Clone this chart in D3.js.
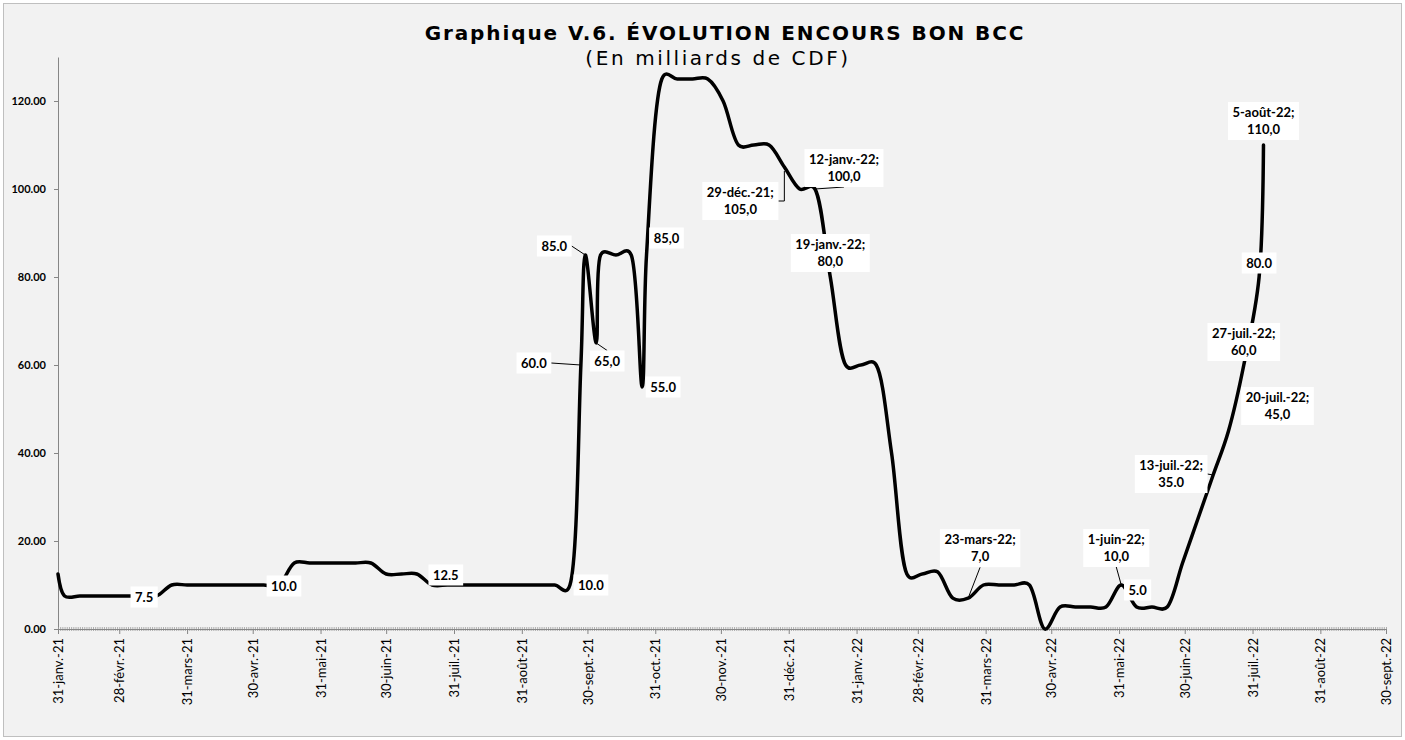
<!DOCTYPE html>
<html lang="fr">
<head>
<meta charset="utf-8">
<title>Graphique V.6. Évolution encours Bon BCC</title>
<script src="https://cdn.jsdelivr.net/npm/d3@7"></script>
<style>
  body { margin: 0; background: #ffffff; }
  svg { display: block; }
</style>
</head>
<body>
<script>
// ---- data -------------------------------------------------------------------
const dates = [
  "2021-01-31", "2021-02-03", "2021-02-10", "2021-02-17", "2021-02-24", "2021-03-03",
  "2021-03-10", "2021-03-17", "2021-03-24", "2021-03-31", "2021-04-07", "2021-04-14",
  "2021-04-21", "2021-04-28", "2021-05-05", "2021-05-12", "2021-05-19", "2021-05-26",
  "2021-06-02", "2021-06-09", "2021-06-16", "2021-06-23", "2021-06-30", "2021-07-07",
  "2021-07-14", "2021-07-21", "2021-07-28", "2021-08-04", "2021-08-11", "2021-08-18",
  "2021-08-25", "2021-09-01", "2021-09-08", "2021-09-15", "2021-09-22", "2021-09-27",
  "2021-09-29", "2021-10-04", "2021-10-06", "2021-10-13", "2021-10-20", "2021-10-25",
  "2021-10-27", "2021-11-03", "2021-11-10", "2021-11-17", "2021-11-24", "2021-12-01",
  "2021-12-08", "2021-12-15", "2021-12-22", "2021-12-29", "2022-01-05", "2022-01-12",
  "2022-01-19", "2022-01-26", "2022-02-02", "2022-02-09", "2022-02-16", "2022-02-23",
  "2022-03-02", "2022-03-09", "2022-03-16", "2022-03-23", "2022-03-30", "2022-04-06",
  "2022-04-13", "2022-04-20", "2022-04-27", "2022-05-04", "2022-05-11", "2022-05-18",
  "2022-05-25", "2022-06-01", "2022-06-08", "2022-06-15", "2022-06-22", "2022-06-29",
  "2022-07-06", "2022-07-13", "2022-07-20", "2022-07-27", "2022-08-03", "2022-08-05"
];
const values = [
  12.5, 7.5, 7.5, 7.5, 7.5, 7.5,
  7.5, 7.5, 10, 10, 10, 10,
  10, 10, 10, 10, 15, 15,
  15, 15, 15, 15, 12.5, 12.5,
  12.5, 10, 10, 10, 10, 10,
  10, 10, 10, 10, 10, 60,
  85, 65, 85, 85, 85, 55,
  85, 125, 125, 125, 125, 120,
  110, 110, 110, 105, 100, 100,
  80, 60, 60, 60, 40, 12.5,
  12.5, 13, 7, 7, 10, 10,
  10, 10, 0, 5, 5, 5,
  5, 10, 5, 5, 5, 15,
  25, 35, 45, 60, 80, 110
];

const monthTicks = [
  "2021-01-31", "2021-02-28", "2021-03-31", "2021-04-30", "2021-05-31", "2021-06-30",
  "2021-07-31", "2021-08-31", "2021-09-30", "2021-10-31", "2021-11-30", "2021-12-31",
  "2022-01-31", "2022-02-28", "2022-03-31", "2022-04-30", "2022-05-31", "2022-06-30",
  "2022-07-31", "2022-08-31", "2022-09-30"
];
const monthTickLabels = [
  "31-janv.-21", "28-févr.-21", "31-mars-21", "30-avr.-21", "31-mai-21", "30-juin-21",
  "31-juil.-21", "31-août-21", "30-sept.-21", "31-oct.-21", "30-nov.-21", "31-déc.-21",
  "31-janv.-22", "28-févr.-22", "31-mars-22", "30-avr.-22", "31-mai-22", "30-juin-22",
  "31-juil.-22", "31-août-22", "30-sept.-22"
];
const yTicks = [0, 20, 40, 60, 80, 100, 120];

// data labels: which point they belong to, and what they say
const labelDates = [
  "2021-03-10", "2021-05-12", "2021-07-14", "2021-09-22", "2021-09-29", "2021-09-27",
  "2021-10-04", "2021-10-25", "2021-10-27", "2021-12-29", "2022-01-12", "2022-01-19",
  "2022-03-23", "2022-06-01", "2022-06-08", "2022-07-13", "2022-07-20", "2022-07-27",
  "2022-08-03", "2022-08-05"
];
const labelTexts = [
  "7.5", "10.0", "12.5", "10.0", "85.0", "60.0",
  "65,0", "55.0", "85,0", "29-déc.-21;\n105,0", "12-janv.-22;\n100,0", "19-janv.-22;\n80,0",
  "23-mars-22;\n7,0", "1-juin-22;\n10,0", "5.0", "13-juil.-22;\n35.0", "20-juil.-22;\n45,0", "27-juil.-22;\n60,0",
  "80.0", "5-août-22;\n110,0"
];

// ---- layout --------------------------------------------------------------
const w = 1405, h = 740;
const margin = {top: 57, right: 19, bottom: 111, left: 58};
const parse = d3.timeParse("%Y-%m-%d");

const series = dates.map((d, i) => ({date: parse(d), value: values[i]}));

const svg = d3.select("body").append("svg")
  .attr("width", w)
  .attr("height", h);

svg.append("rect")
  .attr("x", 3.5).attr("y", 3.5)
  .attr("width", w - 7).attr("height", h - 7)
  .attr("fill", "#f2f2f2")
  .attr("stroke", "#bfbfbf")
  .attr("stroke-width", 1);

const xStart = parse(monthTicks[0]);
const xEnd = parse(monthTicks[monthTicks.length - 1]);

const x = d3.scaleTime()
  .domain([xStart, xEnd])
  .range([margin.left, w - margin.right]);
const y = d3.scaleLinear()
  .domain([0, 130])
  .range([h - margin.bottom, margin.top]);

// title (Verdana-like, slightly spaced as in the source)
svg.append("text")
  .attr("x", 725).attr("y", 40)
  .attr("text-anchor", "middle")
  .style("font-family", "'DejaVu Sans', Verdana, sans-serif")
  .style("font-weight", "bold")
  .style("font-size", "20px")
  .style("letter-spacing", "1.9px")
  .attr("fill", "#000")
  .text("Graphique V.6. ÉVOLUTION ENCOURS BON BCC");
svg.append("text")
  .attr("x", 718).attr("y", 65)
  .attr("text-anchor", "middle")
  .style("font-family", "'DejaVu Sans', Verdana, sans-serif")
  .style("font-size", "20px")
  .style("letter-spacing", "2.6px")
  .attr("fill", "#000")
  .text("(En milliards de CDF)");

// y axis
const yAxis = svg.append("g")
  .attr("transform", `translate(${margin.left},0)`)
  .call(d3.axisLeft(y).tickValues(yTicks).tickFormat(d3.format(".2f")).tickSize(4).tickSizeOuter(0).tickPadding(8));
yAxis.select(".domain").attr("stroke", "#868686");
yAxis.selectAll(".tick line").attr("stroke", "#868686");
yAxis.selectAll("text")
  .style("font-family", "Lato, 'Open Sans', sans-serif")
  .style("font-weight", "bold")
  .style("font-size", "11px")
  .attr("fill", "#000");

// x axis: daily minor ticks crossing the axis, month-end major ticks
const days = d3.timeDay.range(xStart, d3.timeDay.offset(xEnd, 1));
const xMinor = svg.append("g")
  .attr("transform", `translate(0,${y(0) - 2})`)
  .call(d3.axisBottom(x).tickValues(days).tickFormat("").tickSize(4).tickSizeOuter(0));
xMinor.select(".domain").remove();
xMinor.selectAll(".tick line").attr("stroke", "#9a9a9a").attr("stroke-width", 0.8);

const xAxis = svg.append("g")
  .attr("transform", `translate(0,${y(0)})`)
  .call(d3.axisBottom(x)
    .tickValues(monthTicks.map(parse))
    .tickFormat((d, i) => monthTickLabels[i])
    .tickSize(5).tickSizeOuter(0));
xAxis.select(".domain").attr("stroke", "#868686");
xAxis.selectAll(".tick line").attr("stroke", "#868686");
xAxis.selectAll("text")
  .attr("transform", "rotate(-90)")
  .attr("x", -9)
  .attr("y", 0)
  .attr("dy", "0.35em")
  .style("text-anchor", "end")
  .style("font-family", "Lato, 'Open Sans', sans-serif")
  .style("font-size", "13px")
  .attr("fill", "#000");

// smoothed line (Excel-like; small alpha keeps steep jumps from overshooting too much)
const line = d3.line()
  .x(d => x(d.date))
  .y(d => y(d.value))
  .curve(d3.curveCatmullRom.alpha(0.25));

svg.append("path")
  .datum(series)
  .attr("fill", "none")
  .attr("stroke", "#000")
  .attr("stroke-width", 3.5)
  .attr("stroke-linejoin", "round")
  .attr("stroke-linecap", "round")
  .attr("d", line);

// data labels
const labelLayout = [
  {dx: 3, dy: 1, lead: "none"},
  {dx: 5, dy: 1, lead: "none"},
  {dx: 29, dy: 1, lead: "none"},
  {dx: 21, dy: 0, lead: "none"},
  {dx: -31, dy: -9, lead: "right"},
  {dx: -47, dy: -2, lead: "right"},
  {dx: 11, dy: 18, lead: "top"},
  {dx: 21, dy: 0, lead: "none"},
  {dx: 20, dy: -17, lead: "none"},
  {dx: -44, dy: 34, lead: "elbow"},
  {dx: 29, dy: -21, lead: "bottom"},
  {dx: 0, dy: -24, lead: "none"},
  {dx: 12, dy: -50, lead: "bottom"},
  {dx: -5, dy: -37, lead: "bottom"},
  {dx: 1, dy: -17, lead: "none"},
  {dx: -42, dy: -1, lead: "right"},
  {dx: 49, dy: -25, lead: "none"},
  {dx: 0, dy: -23, lead: "none"},
  {dx: 0, dy: -14, lead: "none"},
  {dx: 0, dy: -24, lead: "none"}
];

const lineH = 17;
const labelsG = svg.append("g");
labelDates.forEach((ds, i) => {
  const dt = parse(ds);
  const pt = series.find(p => +p.date === +dt);
  const ax = x(pt.date), ay = y(pt.value);
  const lay = labelLayout[i];
  const cx = ax + lay.dx, cy = ay + lay.dy;
  const lines = labelTexts[i].split("\n");

  const g = labelsG.append("g");
  const rect = g.append("rect").attr("fill", "#ffffff");
  const t = g.append("text")
    .attr("text-anchor", "middle")
    .style("font-family", "Lato, 'Open Sans', sans-serif")
    .style("font-weight", "bold")
    .style("font-size", "13px")
    .attr("fill", "#000");
  lines.forEach((s, k) => {
    t.append("tspan")
      .attr("x", cx)
      .attr("y", cy + (k - (lines.length - 1) / 2) * lineH)
      .attr("dy", "0.35em")
      .text(s);
  });
  const bw = d3.max(t.selectAll("tspan").nodes(), n => n.getComputedTextLength()) + 9;
  const bh = lines.length * lineH + 4;
  const left = cx - bw / 2, top = cy - bh / 2;
  rect.attr("x", left).attr("y", top).attr("width", bw).attr("height", bh);

  let pts = null;
  if (lay.lead === "right") pts = [[left + bw, cy], [ax, ay]];
  if (lay.lead === "top") pts = [[cx, top], [ax, ay]];
  if (lay.lead === "bottom") pts = [[cx, top + bh], [ax, ay]];
  if (lay.lead === "elbow") pts = [[left + bw, cy], [ax, cy], [ax, ay + 4]];
  if (pts) {
    labelsG.insert("path", ":first-child")
      .attr("d", d3.line()(pts))
      .attr("fill", "none")
      .attr("stroke", "#000")
      .attr("stroke-width", 1);
  }
});
</script>
</body>
</html>
